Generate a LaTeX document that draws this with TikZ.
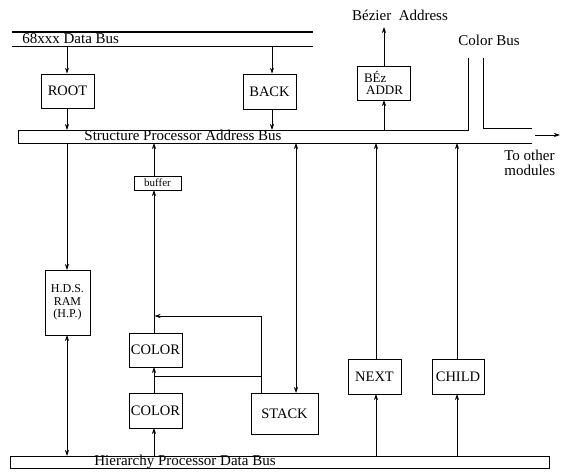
\documentclass[tikz,border=0pt]{standalone}
\usepackage{fontspec}
\setmainfont{Liberation Serif}
\usetikzlibrary{arrows.meta}
\begin{document}
\begin{tikzpicture}[x=1pt,y=-1pt,
  line width=0.7pt,
  box/.style={draw,line width=0.8pt,inner sep=0pt,font=\fontsize{14.5}{15}\selectfont},
  arr/.style={-{Stealth[length=6pt,width=4pt]}},
  darr/.style={{Stealth[length=6pt,width=4pt]}-{Stealth[length=6pt,width=4pt]}},
  bus/.style={line width=0.9pt},
  lbl/.style={font=\fontsize{15}{15}\selectfont,inner sep=0pt}]
\useasboundingbox (0,0) rectangle (566,473);
% top data bus
\coordinate (dbT) at (12,32);
\coordinate (dbB) at (12,46);
\draw[line width=1.1pt] (dbT) -- ++(301,0);
\draw[bus] (dbB) -- ++(301,0);
\node[lbl,anchor=base west] (dbl) at (22,44) {68xxx\ Data\ Bus};
% structure processor address bus
\coordinate (spaT) at (18,130);
\coordinate (spaB) at (18,143);
\coordinate (cbL) at (468,58);
\coordinate (cbR) at (483,58);
\draw[bus] (cbL) -- (cbL |- spaT) -- (spaT) -- (spaB) -- (532,143);
\draw[bus] (cbR) -- (483,128) -- (532,128);
\coordinate (toA) at (535,135);
\coordinate (toB) at (560,135);
\draw[arr] (toA) -- (toB);
\node[lbl,anchor=base] (spal) at (183,141) {Structure\ Processor\ Address\ Bus};
\node[lbl] (cbl) at (489,40) {Color Bus};
\node[lbl] (bzl) at (400,15) {Bézier\ \ Address};
\node[lbl,align=left,anchor=north west] (tom) at (504,150) {To other\\modules};
% hierarchy bus
\node[draw,bus,minimum width=539pt,minimum height=12pt,inner sep=0pt] (hpd) at (279.5,462) {};
\node[lbl,anchor=base] (hpdl) at (185,466) {Hierarchy\ Processor\ Data\ Bus};
% boxes
\node[box,minimum width=53pt,minimum height=34pt] (root) at (67.5,91) {ROOT};
\node[box,minimum width=53pt,minimum height=35pt] (back) at (269.5,91.5) {BACK};
\node[box,minimum width=53pt,minimum height=34pt,align=left,font=\fontsize{13}{12}\selectfont] (bez) at (383.5,83) {BÉz\\\,ADDR};
\node[box,minimum width=45pt,minimum height=65pt,align=center,font=\fontsize{12}{12.5}\selectfont] (hds) at (67.5,302.5) {H.D.S.\\RAM\\(H.P.)};
\node[box,minimum width=47pt,minimum height=14pt,font=\fontsize{11}{11}\selectfont] (buf) at (157.5,183) {buffer};
\node[box,minimum width=53pt,minimum height=34pt] (col1) at (155.5,350) {COLOR};
\node[box,minimum width=53pt,minimum height=35pt] (col2) at (155.5,410.5) {COLOR};
\node[box,minimum width=67pt,minimum height=41pt] (stack) at (284.5,413.5) {STACK};
\node[box,minimum width=53pt,minimum height=35pt] (next) at (374.5,376.5) {NEXT};
\node[box,minimum width=52pt,minimum height=35pt] (child) at (458,376.5) {CHILD};
% connectors
\draw[arr] (67,46) -- (67,46 |- root.north);
\draw[arr] (67,108) -- (67,130);
\draw[arr] (272,46) -- (272,46 |- back.north);
\draw[arr] (272,109) -- (272,130);
\draw[arr] (384,130) -- (384,100);
\draw[arr] (384,66) -- (384,27);
\draw[arr] (67,143) -- (67,270);
\draw[darr] (67,335) -- (67,456);
\draw[arr] (154,176) -- (154,143);
\draw[arr] (154,333) -- (154,190);
\draw[arr] (154,456) -- (154,428);
\draw[arr] (154,393) -- (154,367);
\draw[arr] (261,393) -- (261,316) -- (154.5,316);
\draw (261,376) -- (154,376);
\draw[darr] (296,143) -- (296,393);
\draw[arr] (376,359) -- (376,143);
\draw[arr] (376,456) -- (376,394);
\draw[arr] (457,359) -- (457,143);
\draw[arr] (457,456) -- (457,394);
\end{tikzpicture}
\end{document}
